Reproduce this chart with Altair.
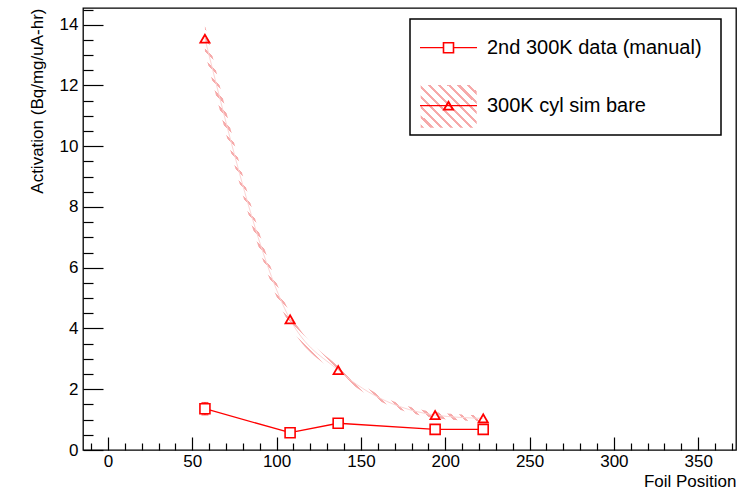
import altair as alt
import pandas as pd

# ---------------- data ----------------
positions = [57.5, 108.0, 136.5, 194.0, 222.5]
data_vals = [1.36, 0.57, 0.88, 0.68, 0.68]
data_err = [0.20, 0.04, 0.05, 0.04, 0.04]
sim_vals = [13.54, 4.30, 2.63, 1.15, 1.04]
sim_err = [0.45, 0.20, 0.13, 0.10, 0.10]

x_major = [0, 50, 100, 150, 200, 250, 300, 350]
x_minor = [v for v in range(-10, 371, 10) if v % 50 != 0]
y_major = [0, 2, 4, 6, 8, 10, 12, 14]
y_minor = [v / 2 for v in range(1, 30) if v % 4 != 0]

legend_labels = ["2nd 300K data (manual)", "300K cyl sim bare"]
x_title = "Foil Position"
y_title = "Activation (Bq/mg/uA-hr)"

# ---------------- tables ----------------
df_data = pd.DataFrame({
    "pos": positions,
    "val": data_vals,
    "lo": [v - e for v, e in zip(data_vals, data_err)],
    "hi": [v + e for v, e in zip(data_vals, data_err)],
})
df_sim = pd.DataFrame({
    "pos": positions,
    "val": sim_vals,
    "lo": [v - e for v, e in zip(sim_vals, sim_err)],
    "hi": [v + e for v, e in zip(sim_vals, sim_err)],
})
dummy = pd.DataFrame({"k": [0]})

FONT = "Liberation Sans"
RED = "#ff0000"
HATCH = "#f6aaaa"

xs = alt.Scale(domain=[-14.8, 372.4], nice=False, zero=False)
ys = alt.Scale(domain=[0, 14.55], nice=False, zero=False)


def stripes(n, frac, x1, y1, x2, y2):
    stops = []
    for i in range(n):
        a = round(i / n, 5)
        b = round((i + frac) / n, 5)
        c = round((i + 1) / n, 5)
        stops += [
            alt.GradientStop(offset=a, color=HATCH),
            alt.GradientStop(offset=b, color=HATCH),
            alt.GradientStop(offset=b, color="rgba(255,255,255,0)"),
            alt.GradientStop(offset=c, color="rgba(255,255,255,0)"),
        ]
    return alt.Gradient(gradient="linear", stops=stops, x1=x1, y1=y1, x2=x2, y2=y2)


band_grad = stripes(62, 0.30, 0, 1, 0.80, -0.14)
legend_grad = stripes(10, 0.32, 0, 1, 1.112, 0.146)

# ---------------- axes ----------------
ax_x_labels = alt.Axis(orient="bottom", values=x_major, ticks=False, tickSize=0, domain=False,
                       grid=False, labelPadding=3, labelFontSize=17, labelFont=FONT,
                       labelColor="#000", title=x_title, titleFont=FONT, titleFontSize=17,
                       titleFontWeight="normal", titleColor="#000", titleX=653, titleY=31,
                       titleAlign="right", titleBaseline="middle", format="d")
ax_y_labels = alt.Axis(orient="left", values=y_major, ticks=False, tickSize=0, domain=False,
                       grid=False, labelPadding=5, labelFontSize=17, labelFont=FONT,
                       labelColor="#000", title=y_title, titleFont=FONT, titleFontSize=17,
                       titleFontWeight="normal", titleColor="#000", titleX=-46, titleY=0,
                       titleAngle=270, titleAlign="right", titleBaseline="middle", format="d")
ax_x_major = alt.Axis(orient="bottom", values=x_major, labels=False, domain=False, grid=False,
                      tickSize=13, offset=-13, tickColor="#000", tickWidth=1.2, title=None)
ax_y_major = alt.Axis(orient="left", values=y_major, labels=False, domain=False, grid=False,
                      tickSize=20, offset=-20, tickColor="#000", tickWidth=1.2, title=None)
ax_x_minor = alt.Axis(orient="bottom", values=x_minor, labels=False, domain=False, grid=False,
                      tickSize=7, offset=-7, tickColor="#000", tickWidth=1.2, title=None)
ax_y_minor = alt.Axis(orient="left", values=y_minor, labels=False, domain=False, grid=False,
                      tickSize=10, offset=-10, tickColor="#000", tickWidth=1.2, title=None)

# ---------------- data layers ----------------
band = alt.Chart(df_sim).mark_area(interpolate="monotone", color=band_grad).encode(
    x=alt.X("pos:Q", scale=xs, axis=ax_x_labels),
    y=alt.Y("lo:Q", scale=ys, axis=ax_y_labels),
    y2="hi:Q",
)
sim_line = alt.Chart(df_sim).mark_line(interpolate="monotone", color="#fcd4d4", strokeWidth=1).encode(
    x=alt.X("pos:Q", scale=xs, axis=ax_x_major),
    y=alt.Y("val:Q", scale=ys, axis=ax_y_major),
)
sim_pts = alt.Chart(df_sim).mark_point(shape="triangle-up", size=85, filled=False, color=RED,
                                        strokeWidth=1.8, opacity=1).encode(
    x=alt.X("pos:Q", scale=xs, axis=ax_x_minor),
    y=alt.Y("val:Q", scale=ys, axis=ax_y_minor),
)
data_line = alt.Chart(df_data).mark_line(color=RED, strokeWidth=1.3).encode(
    x=alt.X("pos:Q", scale=xs, axis=None),
    y=alt.Y("val:Q", scale=ys, axis=None),
)
data_err_rule = alt.Chart(df_data).mark_rule(color=RED, strokeWidth=1.3).encode(
    x=alt.X("pos:Q", scale=xs, axis=None),
    y=alt.Y("lo:Q", scale=ys, axis=None),
    y2="hi:Q",
)
data_cap_lo = alt.Chart(df_data).mark_tick(color=RED, thickness=1.3, size=7, orient="horizontal").encode(
    x=alt.X("pos:Q", scale=xs, axis=None),
    y=alt.Y("lo:Q", scale=ys, axis=None),
)
data_cap_hi = alt.Chart(df_data).mark_tick(color=RED, thickness=1.3, size=7, orient="horizontal").encode(
    x=alt.X("pos:Q", scale=xs, axis=None),
    y=alt.Y("hi:Q", scale=ys, axis=None),
)
data_pts = alt.Chart(df_data).mark_point(shape="square", size=100, filled=True, fill="white",
                                          stroke=RED, strokeWidth=1.6, opacity=1).encode(
    x=alt.X("pos:Q", scale=xs, axis=None),
    y=alt.Y("val:Q", scale=ys, axis=None),
)

# ---------------- legend (layout in pixels of the plot area) ----------------
leg_box = alt.Chart(dummy).mark_rect(fill="white", stroke="#000", strokeWidth=1.5).encode(
    x=alt.value(327), x2=alt.value(638), y=alt.value(11), y2=alt.value(127))
leg_line1 = alt.Chart(dummy).mark_rule(color=RED, strokeWidth=1.3).encode(
    x=alt.value(337), x2=alt.value(394), y=alt.value(39.7))
leg_sq = alt.Chart(dummy).mark_point(shape="square", size=100, filled=True, fill="white",
                                      stroke=RED, strokeWidth=1.6, opacity=1).encode(
    x=alt.value(365.5), y=alt.value(39.7))
leg_hatch = alt.Chart(dummy).mark_rect(color=legend_grad).encode(
    x=alt.value(337.7), x2=alt.value(393.7), y=alt.value(77), y2=alt.value(119.7))
leg_line2 = alt.Chart(dummy).mark_rule(color=RED, strokeWidth=1.3).encode(
    x=alt.value(337), x2=alt.value(394), y=alt.value(97.7))
leg_tri = alt.Chart(dummy).mark_point(shape="triangle-up", size=85, filled=False, color=RED,
                                       strokeWidth=1.8, opacity=1).encode(
    x=alt.value(365.5), y=alt.value(97.7))
leg_t1 = alt.Chart(pd.DataFrame({"t": [legend_labels[0]]})).mark_text(
    align="left", baseline="middle", font=FONT, fontSize=20, color="#000").encode(
    x=alt.value(404), y=alt.value(39.7), text="t:N")
leg_t2 = alt.Chart(pd.DataFrame({"t": [legend_labels[1]]})).mark_text(
    align="left", baseline="middle", font=FONT, fontSize=20, color="#000").encode(
    x=alt.value(404), y=alt.value(97.7), text="t:N")

chart = alt.layer(
    band, sim_line, data_line, data_err_rule, data_cap_lo, data_cap_hi, data_pts, sim_pts,
    leg_box, leg_hatch, leg_line1, leg_sq, leg_line2, leg_tri, leg_t1, leg_t2,
).resolve_axis(
    x="independent", y="independent"
).properties(
    width=653, height=442,
    autosize=alt.AutoSizeParams(type="none"),
    padding={"left": 83, "top": 8, "right": 17, "bottom": 39},
    background="white",
).configure_view(
    stroke="#000", strokeWidth=1.3
)

chart.save("out.html", embed_options={"renderer": "svg", "actions": False})
